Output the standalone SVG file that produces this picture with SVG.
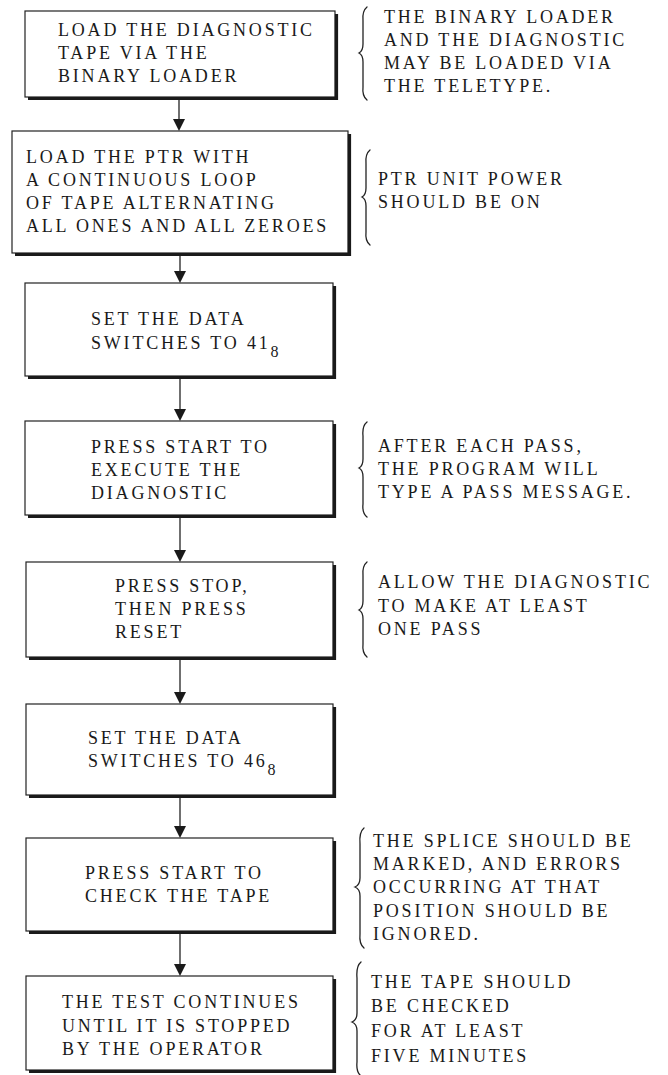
<svg xmlns="http://www.w3.org/2000/svg" width="668" height="1075" viewBox="0 0 668 1075">
<defs>
<style>
.t{font-family:"Liberation Serif","Times New Roman",serif;font-size:18px;letter-spacing:2.8px;fill:#1a1a1a}
.sub{font-size:16px;letter-spacing:0}
.box{fill:#fff;stroke:#222;stroke-width:1.2}
.sh{fill:none;stroke:#1a1a1a;stroke-width:3.2;stroke-linejoin:miter}
.br{fill:none;stroke:#222;stroke-width:1.3;stroke-linecap:round}
.ln{stroke:#222;stroke-width:1.3}
.ah{fill:#1a1a1a}
</style>
</defs>
<rect width="668" height="1075" fill="#fff"/>

<g id="connectors">
<line class="ln" x1="179" y1="99" x2="179" y2="125"/>
<line class="ln" x1="180" y1="255" x2="180" y2="277"/>
<line class="ln" x1="180" y1="378" x2="180" y2="415"/>
<line class="ln" x1="180" y1="517" x2="180" y2="556"/>
<line class="ln" x1="180" y1="659" x2="180" y2="698"/>
<line class="ln" x1="180" y1="797" x2="180" y2="832"/>
<line class="ln" x1="180" y1="933" x2="180" y2="970"/>
<path class="ah" d="M173 119 L185 119 L179 131 Z"/>
<path class="ah" d="M174 271 L186 271 L180 283 Z"/>
<path class="ah" d="M174 409 L186 409 L180 421 Z"/>
<path class="ah" d="M174 550 L186 550 L180 562 Z"/>
<path class="ah" d="M174 692 L186 692 L180 704 Z"/>
<path class="ah" d="M174 826 L186 826 L180 838 Z"/>
<path class="ah" d="M174 964 L186 964 L180 976 Z"/>
</g>

<g id="n1">
<rect class="box" x="25" y="11" width="310" height="86"/>
<polyline class="sh" points="336.5,14 336.5,98.5 28,98.5"/>
<text class="t" x="58" y="36">LOAD THE DIAGNOSTIC</text>
<text class="t" x="58" y="59">TAPE VIA THE</text>
<text class="t" x="58" y="82">BINARY LOADER</text>
</g>

<g id="n2">
<rect class="box" x="12" y="131" width="336" height="122"/>
<polyline class="sh" points="349.5,134 349.5,254.5 15,254.5"/>
<text class="t" x="26" y="163">LOAD THE PTR WITH</text>
<text class="t" x="26" y="186">A CONTINUOUS LOOP</text>
<text class="t" x="26" y="209">OF TAPE ALTERNATING</text>
<text class="t" x="26" y="232">ALL ONES AND ALL ZEROES</text>
</g>

<g id="n3">
<rect class="box" x="25" y="283" width="308" height="93"/>
<polyline class="sh" points="334.5,286 334.5,377.5 28,377.5"/>
<text class="t" x="91" y="325">SET THE DATA</text>
<text class="t" x="91" y="349">SWITCHES TO 41<tspan class="sub" dy="8">8</tspan></text>
</g>

<g id="n4">
<rect class="box" x="25" y="421" width="308" height="94"/>
<polyline class="sh" points="334.5,424 334.5,516.5 28,516.5"/>
<text class="t" x="91" y="453">PRESS START TO</text>
<text class="t" x="91" y="476">EXECUTE THE</text>
<text class="t" x="91" y="499">DIAGNOSTIC</text>
</g>

<g id="n5">
<rect class="box" x="26" y="562" width="307" height="95"/>
<polyline class="sh" points="334.5,565 334.5,658.5 29,658.5"/>
<text class="t" x="115" y="592">PRESS STOP,</text>
<text class="t" x="115" y="615">THEN PRESS</text>
<text class="t" x="115" y="638">RESET</text>
</g>

<g id="n6">
<rect class="box" x="26" y="704" width="307" height="91"/>
<polyline class="sh" points="334.5,707 334.5,796.5 29,796.5"/>
<text class="t" x="88" y="744">SET THE DATA</text>
<text class="t" x="88" y="767">SWITCHES TO 46<tspan class="sub" dy="8">8</tspan></text>
</g>

<g id="n7">
<rect class="box" x="26" y="838" width="307" height="93"/>
<polyline class="sh" points="334.5,841 334.5,932.5 29,932.5"/>
<text class="t" x="85" y="879">PRESS START TO</text>
<text class="t" x="85" y="902">CHECK THE TAPE</text>
</g>

<g id="n8">
<rect class="box" x="26" y="976" width="307" height="94"/>
<polyline class="sh" points="334.5,979 334.5,1071.5 29,1071.5"/>
<text class="t" x="62" y="1008">THE TEST CONTINUES</text>
<text class="t" x="62" y="1032">UNTIL IT IS STOPPED</text>
<text class="t" x="62" y="1055">BY THE OPERATOR</text>
</g>

<g id="note1">
<path class="br" d="M367 7 Q362 11 363 21 L363 44 Q363 51 359 53 Q363 55 363 62 L363 87 Q362 96 367 100"/>
<text class="t" x="384" y="23">THE BINARY LOADER</text>
<text class="t" x="384" y="46">AND THE DIAGNOSTIC</text>
<text class="t" x="384" y="69">MAY BE LOADED VIA</text>
<text class="t" x="384" y="92">THE TELETYPE.</text>
</g>

<g id="note2">
<path class="br" d="M370 150 Q365 154 366 164 L366 188 Q366 195 362 197 Q366 199 366 206 L366 232 Q365 241 370 245"/>
<text class="t" x="378" y="185">PTR UNIT POWER</text>
<text class="t" x="378" y="208">SHOULD BE ON</text>
</g>

<g id="note3">
<path class="br" d="M367 422 Q362 426 363 436 L363 459 Q363 466 359 468 Q363 470 363 477 L363 504 Q362 513 367 517"/>
<text class="t" x="378" y="452">AFTER EACH PASS,</text>
<text class="t" x="378" y="475">THE PROGRAM WILL</text>
<text class="t" x="378" y="498">TYPE A PASS MESSAGE.</text>
</g>

<g id="note4">
<path class="br" d="M367 562 Q362 566 363 576 L363 601 Q363 608 359 610 Q363 612 363 619 L363 644 Q362 653 367 657"/>
<text class="t" x="378" y="588">ALLOW THE DIAGNOSTIC</text>
<text class="t" x="378" y="612">TO MAKE AT LEAST</text>
<text class="t" x="378" y="635">ONE PASS</text>
</g>

<g id="note5">
<path class="br" d="M364 828 Q359 832 360 844 L360 878 Q360 885 355 887 Q360 889 360 896 L360 934 Q359 944 364 948"/>
<text class="t" x="373" y="847">THE SPLICE SHOULD BE</text>
<text class="t" x="373" y="870">MARKED, AND ERRORS</text>
<text class="t" x="373" y="893">OCCURRING AT THAT</text>
<text class="t" x="373" y="917">POSITION SHOULD BE</text>
<text class="t" x="373" y="940">IGNORED.</text>
</g>

<g id="note6">
<path class="br" d="M361 962 Q356 966 357 978 L357 1013 Q357 1020 352 1022 Q357 1024 357 1031 L357 1062 Q356 1072 361 1076"/>
<text class="t" x="371" y="988">THE TAPE SHOULD</text>
<text class="t" x="371" y="1012">BE CHECKED</text>
<text class="t" x="371" y="1037">FOR AT LEAST</text>
<text class="t" x="371" y="1062">FIVE MINUTES</text>
</g>
</svg>
